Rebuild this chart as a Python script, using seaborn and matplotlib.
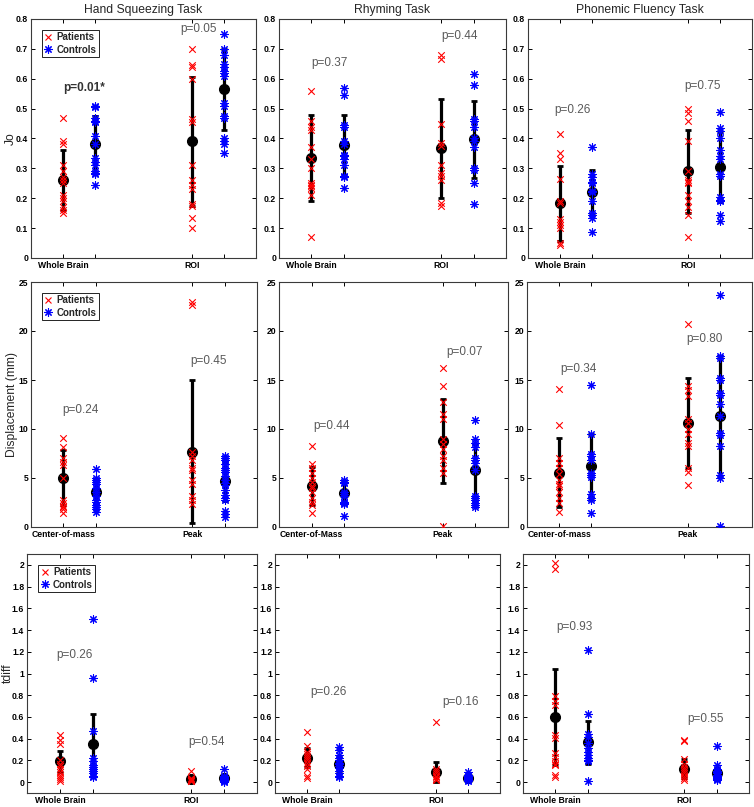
import numpy as np
import matplotlib
matplotlib.use("Agg")
import matplotlib.pyplot as plt
import seaborn as sns
from matplotlib.lines import Line2D
from matplotlib.ticker import FormatStrFormatter

sns.set_style("ticks")
plt.rcParams['font.family'] = ['Liberation Sans', 'DejaVu Sans']

TASKS = ["Hand Squeezing Task", "Rhyming Task", "Phonemic Fluency Task"]
YLABELS = ["Jo", "Displacement (mm)", "tdiff"]
POS = [1, 2, 5, 6]   # patients / controls for the two conditions

# --- Jo ---
jo_hand_wb_pat = [0.47, 0.39, 0.38, 0.31, 0.29, 0.27, 0.26, 0.25, 0.21, 0.20, 0.19, 0.17, 0.16, 0.15]
jo_hand_wb_con = [0.51, 0.505, 0.47, 0.46, 0.455, 0.41, 0.38, 0.335, 0.32, 0.31, 0.29, 0.285, 0.28, 0.245]
jo_hand_roi_pat = [0.70, 0.645, 0.64, 0.60, 0.465, 0.455, 0.31, 0.26, 0.245, 0.23, 0.18, 0.175, 0.135, 0.10]
jo_hand_roi_con = [0.75, 0.70, 0.68, 0.65, 0.64, 0.625, 0.62, 0.61, 0.52, 0.51, 0.475, 0.47, 0.40, 0.39, 0.38, 0.35]
jo_hand_mean = [0.26, 0.38, 0.39, 0.565]
jo_hand_sd = [0.10, 0.095, 0.215, 0.135]

jo_rhym_wb_pat = [0.56, 0.46, 0.44, 0.43, 0.37, 0.33, 0.30, 0.25, 0.245, 0.24, 0.235, 0.21, 0.07]
jo_rhym_wb_con = [0.57, 0.545, 0.445, 0.44, 0.39, 0.38, 0.345, 0.34, 0.33, 0.31, 0.275, 0.27, 0.235]
jo_rhym_roi_pat = [0.68, 0.665, 0.45, 0.385, 0.375, 0.31, 0.285, 0.275, 0.26, 0.185, 0.175]
jo_rhym_roi_con = [0.615, 0.578, 0.465, 0.46, 0.44, 0.40, 0.39, 0.37, 0.30, 0.295, 0.25, 0.18]
jo_rhym_mean = [0.335, 0.378, 0.367, 0.397]
jo_rhym_sd = [0.145, 0.10, 0.165, 0.13]

jo_phon_wb_pat = [0.415, 0.35, 0.33, 0.265, 0.19, 0.185, 0.13, 0.12, 0.11, 0.10, 0.05, 0.045]
jo_phon_wb_con = [0.37, 0.28, 0.27, 0.255, 0.25, 0.225, 0.22, 0.19, 0.15, 0.145, 0.135, 0.087]
jo_phon_roi_pat = [0.50, 0.485, 0.46, 0.39, 0.29, 0.26, 0.255, 0.25, 0.21, 0.19, 0.17, 0.145, 0.07]
jo_phon_roi_con = [0.49, 0.435, 0.425, 0.40, 0.36, 0.34, 0.33, 0.28, 0.275, 0.205, 0.195, 0.19, 0.145, 0.125]
jo_phon_mean = [0.183, 0.222, 0.29, 0.305]
jo_phon_sd = [0.125, 0.074, 0.14, 0.117]

# --- Displacement (mm) ---
disp_hand_com_pat = [9.1, 8.2, 7.0, 6.6, 6.3, 5.0, 2.8, 2.4, 2.1, 2.0, 1.8, 1.4]
disp_hand_com_con = [5.9, 5.0, 4.8, 4.6, 4.4, 4.0, 3.6, 3.2, 2.8, 2.6, 2.2, 2.0, 1.8, 1.5]
disp_hand_peak_pat = [23.0, 22.7, 7.7, 7.2, 6.8, 6.0, 5.8, 4.8, 4.4, 3.2, 2.8, 2.3]
disp_hand_peak_con = [7.2, 7.0, 6.8, 6.4, 6.0, 5.8, 5.6, 5.2, 4.8, 4.5, 4.3, 3.8, 3.3, 3.0, 2.8, 1.6, 1.3, 1.0]
disp_hand_mean = [5.05, 3.6, 7.7, 4.65]
disp_hand_sd = [2.85, 1.3, 7.25, 2.0]

disp_rhym_com_pat = [8.3, 6.4, 6.0, 5.5, 5.0, 4.6, 4.2, 4.0, 3.6, 3.0, 2.6, 2.2, 1.4]
disp_rhym_com_con = [4.8, 4.6, 4.5, 3.6, 3.4, 3.2, 2.6, 2.4, 2.3, 1.1]
disp_rhym_peak_pat = [16.2, 14.4, 12.8, 11.5, 11.0, 9.0, 8.5, 8.0, 7.2, 6.8, 6.0, 5.5, 0.1]
disp_rhym_peak_con = [10.9, 9.0, 8.6, 8.2, 7.0, 6.8, 6.5, 5.8, 3.2, 3.0, 2.8, 2.5, 2.2, 2.0]
disp_rhym_mean = [4.15, 3.5, 8.8, 5.8]
disp_rhym_sd = [1.95, 1.1, 4.3, 2.7]

disp_phon_com_pat = [14.1, 10.4, 7.0, 6.5, 6.0, 5.4, 4.8, 4.4, 4.2, 3.6, 3.0, 2.4, 1.5]
disp_phon_com_con = [14.5, 9.5, 7.5, 7.2, 6.8, 5.5, 5.3, 5.1, 3.4, 3.0, 2.8, 1.4]
disp_phon_peak_pat = [20.7, 14.4, 14.0, 13.4, 11.0, 10.6, 10.0, 9.5, 8.6, 8.3, 6.0, 5.6, 4.3]
disp_phon_peak_con = [23.7, 17.4, 17.2, 15.2, 15.0, 13.7, 13.5, 12.6, 11.3, 9.6, 9.4, 8.3, 5.3, 5.0, 0.1]
disp_phon_mean = [5.55, 6.25, 10.6, 11.3]
disp_phon_sd = [3.55, 3.25, 4.6, 6.1]

# --- tdiff ---
td_hand_wb_pat = [0.43, 0.39, 0.35, 0.20, 0.17, 0.15, 0.12, 0.09, 0.07, 0.05, 0.03, 0.01]
td_hand_wb_con = [1.50, 0.96, 0.47, 0.22, 0.19, 0.16, 0.14, 0.12, 0.10, 0.08, 0.06, 0.05]
td_hand_roi_pat = [0.10, 0.04, 0.03, 0.02, 0.02, 0.01, 0.01]
td_hand_roi_con = [0.12, 0.06, 0.05, 0.04, 0.03, 0.02, 0.01, 0.005]
td_hand_mean = [0.19, 0.355, 0.025, 0.035]
td_hand_sd = [0.095, 0.275, 0.02, 0.03]

td_rhym_wb_pat = [0.46, 0.33, 0.28, 0.26, 0.24, 0.22, 0.20, 0.18, 0.15, 0.12, 0.06, 0.04]
td_rhym_wb_con = [0.32, 0.30, 0.25, 0.22, 0.20, 0.18, 0.17, 0.15, 0.13, 0.10, 0.08, 0.06, 0.05]
td_rhym_roi_pat = [0.55, 0.12, 0.10, 0.08, 0.06, 0.05, 0.03, 0.02]
td_rhym_roi_con = [0.09, 0.07, 0.06, 0.05, 0.04, 0.03, 0.02, 0.01]
td_rhym_mean = [0.225, 0.165, 0.095, 0.04]
td_rhym_sd = [0.085, 0.07, 0.09, 0.03]

td_phon_wb_pat = [2.02, 1.96, 0.79, 0.75, 0.71, 0.43, 0.41, 0.27, 0.23, 0.19, 0.17, 0.16, 0.07, 0.05]
td_phon_wb_con = [1.22, 0.63, 0.44, 0.42, 0.36, 0.31, 0.28, 0.25, 0.22, 0.20, 0.19, 0.01]
td_phon_roi_pat = [0.39, 0.38, 0.21, 0.17, 0.14, 0.12, 0.10, 0.08, 0.06, 0.04, 0.02]
td_phon_roi_con = [0.33, 0.16, 0.12, 0.10, 0.09, 0.08, 0.07, 0.06, 0.05, 0.04, 0.03, 0.02]
td_phon_mean = [0.60, 0.365, 0.125, 0.08]
td_phon_sd = [0.44, 0.195, 0.09, 0.05]

# p-value labels: (text, x, y)
p_jo = [[("p=0.01*", 1.0, 0.568), ("p=0.05", 4.64, 0.765)],
        [("p=0.37", 1.0, 0.653), ("p=0.44", 5.01, 0.744)],
        [("p=0.26", 0.81, 0.496), ("p=0.75", 4.875, 0.577)]]
p_disp = [[("p=0.24", 0.96, 11.9), ("p=0.45", 4.93, 16.95)],
          [("p=0.44", 1.05, 10.3), ("p=0.07", 5.12, 17.9)],
          [("p=0.34", 1.03, 16.1), ("p=0.80", 4.96, 19.2)]]
p_td = [[("p=0.26", 0.9, 1.17), ("p=0.54", 4.91, 0.374)],
        [("p=0.26", 1.09, 0.833), ("p=0.16", 5.19, 0.735)],
        [("p=0.93", 1.03, 1.43), ("p=0.55", 5.08, 0.579)]]

xlab_jo = ["Whole Brain", "ROI"]
xlab_disp = [["Center-of-mass", "Peak"], ["Center-of-Mass", "Peak"], ["Center-of-mass", "Peak"]]
xlab_td = ["Whole Brain", "ROI"]

groups = [
    [[jo_hand_wb_pat, jo_hand_wb_con, jo_hand_roi_pat, jo_hand_roi_con],
     [jo_rhym_wb_pat, jo_rhym_wb_con, jo_rhym_roi_pat, jo_rhym_roi_con],
     [jo_phon_wb_pat, jo_phon_wb_con, jo_phon_roi_pat, jo_phon_roi_con]],
    [[disp_hand_com_pat, disp_hand_com_con, disp_hand_peak_pat, disp_hand_peak_con],
     [disp_rhym_com_pat, disp_rhym_com_con, disp_rhym_peak_pat, disp_rhym_peak_con],
     [disp_phon_com_pat, disp_phon_com_con, disp_phon_peak_pat, disp_phon_peak_con]],
    [[td_hand_wb_pat, td_hand_wb_con, td_hand_roi_pat, td_hand_roi_con],
     [td_rhym_wb_pat, td_rhym_wb_con, td_rhym_roi_pat, td_rhym_roi_con],
     [td_phon_wb_pat, td_phon_wb_con, td_phon_roi_pat, td_phon_roi_con]],
]
means = [[jo_hand_mean, jo_rhym_mean, jo_phon_mean],
         [disp_hand_mean, disp_rhym_mean, disp_phon_mean],
         [td_hand_mean, td_rhym_mean, td_phon_mean]]
sds = [[jo_hand_sd, jo_rhym_sd, jo_phon_sd],
       [disp_hand_sd, disp_rhym_sd, disp_phon_sd],
       [td_hand_sd, td_rhym_sd, td_phon_sd]]
ptexts = [p_jo, p_disp, p_td]
ylims = [(0, 0.8), (0, 25), (-0.1, 2.1)]
yticks = [np.arange(0, 0.81, 0.1), np.arange(0, 26, 5), np.arange(0, 2.01, 0.2)]

# axes boxes in pixels: left, top, right, bottom
BOXES = [[(31, 19, 256, 258), (279, 19, 506, 258), (528, 19, 752, 258)],
         [(31, 282, 257, 527), (279, 282, 508, 527), (527, 282, 752, 527)],
         [(27, 554, 257, 793), (275, 554, 500, 793), (523, 554, 749, 793)]]
YLAB_RIGHT = [14, 13, 13]   # px left of the axis where the y label ends

W, H = 754, 807
fig = plt.figure(figsize=(W / 100, H / 100), dpi=100)
ASTER = (8, 2, 0)
SPINE = '#3a3a3a'

for r in range(3):
    for c in range(3):
        l, t, rr, b = BOXES[r][c]
        ax = fig.add_axes([l / W, 1 - b / H, (rr - l) / W, (b - t) / H])
        ax.errorbar(POS, means[r][c], yerr=sds[r][c], fmt='o', color='black', ms=7,
                    lw=2.3, capsize=2.5, capthick=2, zorder=2)
        for i, vals in enumerate(groups[r][c]):
            pat = i % 2 == 0
            sns.scatterplot(x=np.full(len(vals), POS[i]), y=vals, ax=ax,
                            marker='x' if pat else ASTER,
                            color='red' if pat else 'blue',
                            s=22 if pat else 30, linewidth=0.8, zorder=3, legend=False)
        for txt, tx, ty in ptexts[r][c]:
            star = txt.endswith('*')
            ax.text(tx, ty, txt, ha='left', va='center', fontsize=8.5,
                    color='#333333' if star else '#5a5a5a',
                    fontweight='bold' if star else 'normal')
        ax.set_xlim(0, 7)
        ax.set_ylim(*ylims[r])
        ax.set_yticks(yticks[r])
        ax.yaxis.set_major_formatter(FormatStrFormatter('%g'))
        ax.set_xticks(POS)
        xl = xlab_jo if r == 0 else (xlab_disp[c] if r == 1 else xlab_td)
        ax.set_xticklabels([xl[0], '', xl[1], ''])
        ax.tick_params(direction='in', length=3, width=0.7, top=True, right=True,
                       labelsize=6.2, colors='black', pad=2)
        for lab in ax.get_xticklabels() + ax.get_yticklabels():
            lab.set_fontweight('bold')
        for sp in ax.spines.values():
            sp.set_color(SPINE)
            sp.set_linewidth(0.8)
        ax.set_xlabel('')
        if r == 0:
            ax.set_title(TASKS[c], fontsize=8.7, pad=4)
        if c == 0:
            ax.set_ylabel(YLABELS[r], fontsize=8.7)
            ax.yaxis.set_label_coords(-YLAB_RIGHT[r] / (rr - l), 0.5)
            handles = [Line2D([], [], ls='none', marker='x', color='red', ms=5, mew=0.8),
                       Line2D([], [], ls='none', marker=ASTER, color='blue', ms=6, mew=0.8)]
            leg = ax.legend(handles, ['Patients', 'Controls'], loc='upper left',
                            bbox_to_anchor=(0.047, 0.955), borderaxespad=0,
                            fancybox=False, framealpha=1, edgecolor='black',
                            prop={'weight': 'bold', 'size': 7}, handlelength=0.9,
                            handletextpad=0.4, borderpad=0.25, labelspacing=0.25)
            leg.get_frame().set_linewidth(0.6)

fig.savefig("out.png", dpi=100)
